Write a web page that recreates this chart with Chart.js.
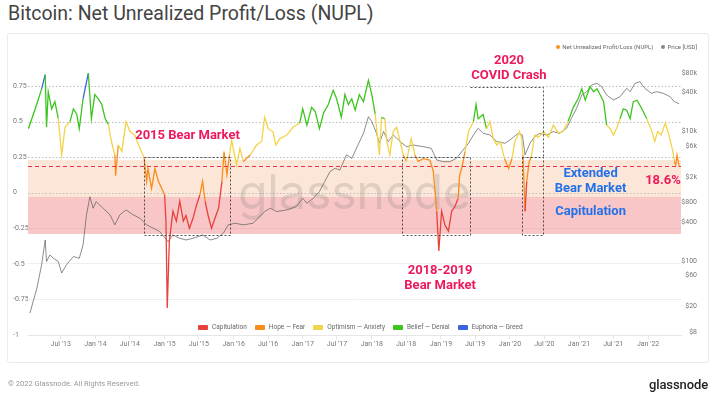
<!DOCTYPE html>
<html>
<head>
<meta charset="utf-8">
<script src="https://cdn.jsdelivr.net/npm/chart.js@4.4.0/dist/chart.umd.min.js"></script>
<style>
  html, body { margin: 0; padding: 0; background: #fff; }
  body { width: 715px; height: 394px; position: relative; overflow: hidden; font-family: Roboto, 'Noto Sans', sans-serif; }
  #title { position: absolute; left: 8px; top: 2px; font-size: 19.5px; color: #444; white-space: nowrap; }
  #card { position: absolute; left: 7px; top: 33px; width: 700px; height: 328px; border: 1px solid #ebebeb; border-radius: 3px; }
  #chart { position: absolute; left: 0; top: 0; }
  .legend { position: absolute; display: flex; align-items: center; white-space: nowrap; color: #666; }
  #legend-top { right: 18px; top: 43px; font-size: 6px; gap: 8px; }
  #legend-top .dot { display: inline-block; width: 4px; height: 4px; border-radius: 50%; margin-right: 2px; vertical-align: middle; }
  #legend-bottom { left: 198px; top: 323px; font-size: 6.5px; gap: 8px; }
  #legend-bottom .sw { display: inline-block; width: 10px; height: 5px; border-radius: 1px; margin-right: 4px; vertical-align: middle; }
  #footer { position: absolute; left: 8px; top: 379px; font-size: 7.5px; color: #999; }
  #logo { position: absolute; right: 7px; top: 377px; font-size: 13px; color: #222; font-weight: 500; letter-spacing: -0.1px; }
</style>
</head>
<body>
<div id="title">Bitcoin: Net Unrealized Profit/Loss (NUPL)</div>
<div id="card"></div>
<canvas id="chart" width="715" height="394"></canvas>
<div id="legend-top" class="legend"></div>
<div id="legend-bottom" class="legend"></div>
<div id="footer">© 2022 Glassnode. All Rights Reserved.</div>
<div id="logo">glassnode</div>
<script>
// --- DATA ---

const nuplDates = [
  '2013-01-11','2013-02-24','2013-03-22','2013-04-10','2013-04-17','2013-04-26','2013-05-14','2013-05-31',
  '2013-06-18','2013-07-06','2013-07-24','2013-08-19','2013-09-06','2013-09-24','2013-10-07','2013-10-27',
  '2013-11-24','2013-12-10','2013-12-28','2014-01-16','2014-02-03','2014-02-21','2014-03-10','2014-03-26',
  '2014-04-13','2014-04-17','2014-05-01','2014-05-20','2014-06-11','2014-07-02','2014-07-28','2014-08-24',
  '2014-09-14','2014-09-28','2014-10-05','2014-10-24','2014-11-11','2014-11-29','2014-12-17','2015-01-01',
  '2015-01-08','2015-01-15','2015-01-26','2015-02-14','2015-03-04','2015-03-22','2015-04-10','2015-04-24',
  '2015-05-12','2015-05-31','2015-06-18','2015-07-06','2015-07-21','2015-08-03','2015-08-19','2015-09-06',
  '2015-09-24','2015-10-13','2015-10-31','2015-11-11','2015-11-26','2015-12-10','2015-12-21','2016-01-16',
  '2016-02-03','2016-02-21','2016-03-29','2016-05-01','2016-05-28','2016-06-13','2016-07-02','2016-07-27',
  '2016-08-11','2016-09-02','2016-10-08','2016-11-10','2016-12-16','2017-01-01','2017-01-23','2017-02-17',
  '2017-03-08','2017-03-30','2017-04-21','2017-05-16','2017-06-11','2017-06-29','2017-07-24','2017-08-12',
  '2017-08-30','2017-09-17','2017-10-05','2017-10-27','2017-11-18','2017-12-14','2018-01-01','2018-01-19',
  '2018-01-30','2018-02-10','2018-02-21','2018-03-11','2018-03-19','2018-04-06','2018-04-24','2018-05-12',
  '2018-05-31','2018-06-16','2018-07-03','2018-07-28','2018-08-17','2018-09-03','2018-09-30','2018-11-04',
  '2018-11-22','2018-12-10','2018-12-21','2019-01-05','2019-01-23','2019-02-10','2019-02-27','2019-03-15',
  '2019-04-02','2019-04-10','2019-04-21','2019-05-09','2019-05-27','2019-06-22','2019-07-06','2019-07-17',
  '2019-08-12','2019-08-30','2019-09-17','2019-10-05','2019-10-24','2019-11-11','2019-12-03','2019-12-25',
  '2020-01-12','2020-01-27','2020-02-21','2020-03-03','2020-03-10','2020-03-21','2020-03-30','2020-04-12',
  '2020-04-23','2020-05-11','2020-05-30','2020-06-28','2020-07-23','2020-08-18','2020-09-13','2020-10-08',
  '2020-11-04','2020-12-02','2020-12-27','2021-01-16','2021-02-03','2021-02-28','2021-03-19','2021-04-06',
  '2021-04-22','2021-05-11','2021-05-27','2021-06-14','2021-07-02','2021-07-21','2021-08-06','2021-08-23',
  '2021-09-10','2021-09-28','2021-10-15','2021-11-04','2021-11-29','2021-12-25','2022-01-19','2022-02-05',
  '2022-02-21','2022-03-11','2022-04-02','2022-04-21','2022-05-12','2022-05-20','2022-05-27','2022-06-03',
  '2022-06-14'
];
const nuplValues = [
  0.45, 0.62, 0.73, 0.83, 0.46, 0.71, 0.59, 0.64,
  0.52, 0.265, 0.46, 0.50, 0.59, 0.55, 0.45, 0.66,
  0.84, 0.52, 0.69, 0.66, 0.62, 0.52, 0.48, 0.36,
  0.265, 0.12, 0.335, 0.29, 0.50, 0.43, 0.405, 0.31,
  0.25, 0.08, 0.17, 0.03, 0.17, 0.08, 0.03, -0.016,
  -0.20, -0.81, -0.34, -0.13, -0.20, -0.06, -0.20, -0.16,
  -0.25, -0.18, -0.09, -0.016, 0.08, -0.06, -0.16, -0.25,
  -0.18, -0.11, 0.08, 0.29, 0.125, 0.265, 0.37, 0.195,
  0.31, 0.22, 0.265, 0.335, 0.36, 0.53, 0.45, 0.43,
  0.335, 0.38, 0.405, 0.46, 0.49, 0.59, 0.475, 0.60,
  0.57, 0.45, 0.56, 0.62, 0.72, 0.66, 0.53, 0.69,
  0.62, 0.66, 0.58, 0.69, 0.64, 0.79, 0.69, 0.55,
  0.405, 0.265, 0.53, 0.52, 0.38, 0.265, 0.43, 0.46,
  0.36, 0.265, 0.22, 0.38, 0.265, 0.22, 0.24, 0.23,
  0.15, -0.13, -0.41, -0.13, -0.23, -0.27, -0.13, -0.10,
  -0.04, 0.12, 0.17, 0.29, 0.43, 0.50, 0.62, 0.52,
  0.55, 0.45, 0.50, 0.38, 0.335, 0.36, 0.24, 0.17,
  0.24, 0.36, 0.43, 0.38, 0.265, -0.13, 0.08, 0.22,
  0.25, 0.405, 0.39, 0.43, 0.39, 0.475, 0.42, 0.43,
  0.50, 0.60, 0.66, 0.73, 0.65, 0.745, 0.71, 0.73,
  0.69, 0.64, 0.475, 0.45, 0.405, 0.46, 0.52, 0.59,
  0.58, 0.52, 0.64, 0.65, 0.59, 0.52, 0.44, 0.36,
  0.43, 0.405, 0.49, 0.405, 0.29, 0.22, 0.195, 0.265,
  0.186
];

const priceDates = [
  '2013-01-19','2013-02-25','2013-03-22','2013-04-10','2013-04-17','2013-05-05','2013-05-23','2013-06-18',
  '2013-07-06','2013-07-31','2013-09-06','2013-10-07','2013-10-27','2013-11-14','2013-12-02','2013-12-19',
  '2014-01-04','2014-02-10','2014-03-19','2014-04-13','2014-05-09','2014-06-11','2014-07-20','2014-08-24',
  '2014-09-28','2014-11-03','2014-12-06','2015-01-19','2015-02-14','2015-03-22','2015-04-24','2015-05-31',
  '2015-07-21','2015-08-30','2015-10-04','2015-11-07','2015-12-03','2016-01-08','2016-02-21','2016-04-13',
  '2016-06-13','2016-07-13','2016-08-15','2016-10-08','2016-11-28','2017-01-01','2017-01-23','2017-02-26',
  '2017-03-30','2017-04-27','2017-05-25','2017-06-21','2017-07-16','2017-08-20','2017-09-17','2017-10-20',
  '2017-11-18','2017-12-14','2018-01-01','2018-01-26','2018-02-10','2018-03-04','2018-03-29','2018-04-24',
  '2018-05-31','2018-07-03','2018-08-07','2018-09-30','2018-11-11','2018-12-10','2019-01-11','2019-02-17',
  '2019-03-25','2019-04-21','2019-05-27','2019-06-22','2019-07-17','2019-08-12','2019-09-17','2019-10-24',
  '2019-12-06','2020-01-01','2020-02-14','2020-03-07','2020-03-21','2020-04-16','2020-05-11','2020-06-07',
  '2020-07-13','2020-08-18','2020-09-20','2020-10-27','2020-11-22','2020-12-19','2021-01-16','2021-02-10',
  '2021-03-09','2021-04-06','2021-05-01','2021-05-27','2021-07-02','2021-08-06','2021-09-10','2021-09-28',
  '2021-10-24','2021-11-19','2021-12-14','2022-01-19','2022-02-14','2022-03-22','2022-04-27','2022-05-20',
  '2022-06-07','2022-06-14'
];
const priceValues = [
  15.6, 38, 87, 211, 98, 124, 110, 98,
  65, 87, 117, 110, 177, 514, 985, 653,
  826, 653, 514, 361, 514, 615, 514, 457,
  361, 320, 285, 199, 252, 224, 211, 224,
  252, 211, 224, 268, 361, 383, 361, 383,
  580, 653, 580, 615, 692, 931, 780, 931,
  1178, 1683, 2404, 2710, 2540, 4370, 3860, 6210,
  9420, 17000, 14200, 9420, 6600, 10000, 7000, 8870,
  7000, 5850, 6210, 5850, 5520, 3640, 3430, 3430,
  3860, 4900, 6600, 8870, 11250, 9420, 8870, 7000,
  6600, 7430, 9420, 8870, 4370, 6600, 8360, 9420,
  8870, 10000, 9420, 11250, 16060, 22900, 36800, 41400,
  52600, 55800, 49500, 36800, 30800, 34700, 46800, 41400,
  55800, 59100, 46800, 39100, 41400, 39100, 34700, 29000,
  27500, 27000
];

const xTickDates = ['2013-07-01','2014-01-01','2014-07-01','2015-01-01','2015-07-01','2016-01-01','2016-07-01',
  '2017-01-01','2017-07-01','2018-01-01','2018-07-01','2019-01-01','2019-07-01','2020-01-01','2020-07-01',
  '2021-01-01','2021-07-01','2022-01-01'];
const xTickLabels = ["Jul '13","Jan '14","Jul '14","Jan '15","Jul '15","Jan '16","Jul '16","Jan '17","Jul '17",
  "Jan '18","Jul '18","Jan '19","Jul '19","Jan '20","Jul '20","Jan '21","Jul '21","Jan '22"];
const nuplTicks = [-1, -0.75, -0.5, -0.25, 0, 0.25, 0.5, 0.75];
const priceTicks = [8, 20, 60, 100, 400, 800, 2000, 6000, 10000, 40000, 80000];
const priceTickLabels = ['$8','$20','$60','$100','$400','$800','$2k','$6k','$10k','$40k','$80k'];

const zoneNames = ['Capitulation', 'Hope — Fear', 'Optimism — Anxiety', 'Belief — Denial', 'Euphoria — Greed'];
const zoneBreaks = [0, 0.25, 0.5, 0.75];
const currentNupl = 0.186;

// --- STYLE ---

const zoneColors = ['#e8413c', '#f98d1c', '#f3d34a', '#3cc51f', '#3b64e0'];
const pink = '#ec1a5c';
const blue = '#2470e8';

// shaded regions and dotted boxes, in chart units
const bands = [
  { from: 0.23, to: -0.03, color: 'rgba(249,205,175,0.5)' },
  { from: -0.03, to: -0.29, color: 'rgba(238,120,120,0.42)' }
];
const boxes = [
  ['2014-09-13', '2015-12-12', 0.25, -0.30],
  ['2018-06-10', '2019-06-03', 0.25, -0.30],
  ['2020-03-03', '2020-06-24', 0.25, -0.30]
];
const bracket = [['2019-06-03', 0.745], ['2020-06-24', 0.745], ['2020-06-24', 0.25]];
const notes = [
  { lines: ['2015 Bear Market'], date: '2015-05-02', value: 0.398, color: pink },
  { lines: ['2020', 'COVID Crash'], date: '2019-12-27', value: 0.925, color: pink },
  { lines: ['2018-2019', 'Bear Market'], date: '2018-12-28', value: -0.545, color: pink },
  { lines: ['Extended', 'Bear Market'], date: '2021-03-03', value: 0.131, color: blue },
  { lines: ['Capitulation'], date: '2021-03-03', value: -0.136, color: blue },
  { lines: ['18.6%'], date: '2022-03-21', value: 0.082, color: pink }
];

function toYear(s) {
  const d = new Date(s + 'T00:00:00Z');
  const y = d.getUTCFullYear();
  const start = Date.UTC(y, 0, 1), end = Date.UTC(y + 1, 0, 1);
  return y + (d.getTime() - start) / (end - start);
}

function zoneColor(v) {
  let i = 0;
  while (i < zoneBreaks.length && v >= zoneBreaks[i]) i++;
  return zoneColors[i];
}

// --- LEGENDS ---

document.getElementById('legend-top').innerHTML =
  '<span><span class="dot" style="background:#f7931a"></span>Net Unrealized Profit/Loss (NUPL)</span>' +
  '<span><span class="dot" style="background:#888"></span>Price [USD]</span>';
document.getElementById('legend-bottom').innerHTML = zoneNames.map((n, i) =>
  '<span><span class="sw" style="background:' + zoneColors[i] + '"></span>' + n + '</span>').join('');

// --- OVERLAY PLUGIN ---

const overlay = {
  id: 'overlay',
  beforeDatasetsDraw(chart) {
    const { ctx, chartArea: a, scales: { x, y } } = chart;
    ctx.save();
    bands.forEach(b => {
      const t = y.getPixelForValue(b.from), bt = y.getPixelForValue(b.to);
      ctx.fillStyle = b.color;
      ctx.fillRect(a.left, t, a.right - a.left, bt - t);
    });
    ctx.strokeStyle = '#bdbdbd';
    ctx.lineWidth = 1;
    ctx.setLineDash([1.5, 2]);
    zoneBreaks.forEach(v => {
      const py = Math.round(y.getPixelForValue(v)) + 0.5;
      ctx.beginPath(); ctx.moveTo(a.left, py); ctx.lineTo(a.right, py); ctx.stroke();
    });
    ctx.setLineDash([]);
    ctx.font = '400 48px Inter, Roboto, sans-serif';
    ctx.fillStyle = 'rgba(110,110,110,0.2)';
    ctx.textAlign = 'center';
    ctx.textBaseline = 'alphabetic';
    ctx.fillText('glassnode', (a.left + a.right) / 2, (a.top + a.bottom) / 2 + 14);
    ctx.restore();
  },
  afterDatasetsDraw(chart) {
    const { ctx, chartArea: a, scales: { x, y } } = chart;
    const px = d => x.getPixelForValue(toYear(d));
    ctx.save();
    // dotted boxes
    ctx.strokeStyle = 'rgba(50,50,50,0.85)';
    ctx.lineWidth = 1;
    ctx.setLineDash([2, 2]);
    boxes.forEach(([d0, d1, top, bottom]) => {
      const l = Math.round(px(d0)) + 0.5, r = Math.round(px(d1)) + 0.5;
      const t = Math.round(y.getPixelForValue(top)) + 0.5, b = Math.round(y.getPixelForValue(bottom)) + 0.5;
      ctx.strokeRect(l, t, r - l, b - t);
    });
    ctx.beginPath();
    bracket.forEach(([d, v], i) => {
      const xx = Math.round(px(d)) + 0.5, yy = Math.round(y.getPixelForValue(v)) + 0.5;
      if (i === 0) ctx.moveTo(xx, yy); else ctx.lineTo(xx, yy);
    });
    ctx.stroke();
    // current level
    ctx.strokeStyle = '#e8334d';
    ctx.setLineDash([4, 3]);
    const cy = Math.round(y.getPixelForValue(currentNupl)) + 0.5;
    ctx.beginPath(); ctx.moveTo(a.left, cy); ctx.lineTo(a.right, cy); ctx.stroke();
    ctx.setLineDash([]);
    // labels
    ctx.font = 'bold 13px Roboto, sans-serif';
    ctx.textAlign = 'center';
    ctx.textBaseline = 'middle';
    notes.forEach(n => {
      ctx.fillStyle = n.color;
      const cx = px(n.date), y0 = y.getPixelForValue(n.value);
      n.lines.forEach((t, i) => ctx.fillText(t, cx, y0 + i * 15));
    });
    ctx.restore();
  }
};

// --- CHART ---

const tickFont = { family: 'Roboto, sans-serif', size: 7 };

new Chart(document.getElementById('chart').getContext('2d'), {
  type: 'line',
  data: {
    datasets: [
      {
        label: 'Net Unrealized Profit/Loss (NUPL)',
        data: nuplDates.map((d, i) => ({ x: toYear(d), y: nuplValues[i] })),
        yAxisID: 'y',
        borderColor: '#f98d1c',
        borderWidth: 1.3,
        pointRadius: 0,
        tension: 0,
        segment: { borderColor: c => zoneColor((c.p0.parsed.y + c.p1.parsed.y) / 2) },
        order: 1
      },
      {
        label: 'Price [USD]',
        data: priceDates.map((d, i) => ({ x: toYear(d), y: priceValues[i] })),
        yAxisID: 'y1',
        borderColor: 'rgba(95,95,95,0.8)',
        borderWidth: 0.9,
        pointRadius: 0,
        tension: 0,
        order: 2
      }
    ]
  },
  options: {
    responsive: false,
    animation: false,
    layout: { padding: { left: 13, right: 18, top: 55, bottom: 39 } },
    plugins: { legend: { display: false }, tooltip: { enabled: false } },
    scales: {
      x: {
        type: 'linear',
        min: toYear('2013-01-09'),
        max: toYear('2022-06-24'),
        afterBuildTicks: s => { s.ticks = xTickDates.map(d => ({ value: toYear(d) })); },
        afterFit: s => { s.height = 20; },
        ticks: { callback: (v, i) => xTickLabels[i], autoSkip: false, maxRotation: 0, font: tickFont, color: '#777', padding: 1 },
        grid: { drawOnChartArea: false, drawTicks: true, tickLength: 4, color: '#e6e6e6' },
        border: { display: true, color: '#e6e6e6' }
      },
      y: {
        position: 'left',
        min: -1,
        max: 0.968,
        afterBuildTicks: s => { s.ticks = nuplTicks.map(v => ({ value: v })); },
        afterFit: s => { s.width = 15; },
        ticks: { callback: v => String(v), crossAlign: 'far', font: tickFont, color: '#777' },
        grid: { color: c => (c.tick && c.tick.value < 0) ? '#eeeeee' : 'rgba(0,0,0,0)', drawTicks: false },
        border: { display: false }
      },
      y1: {
        type: 'logarithmic',
        position: 'right',
        min: 7.16,
        max: 152900,
        afterBuildTicks: s => { s.ticks = priceTicks.map(v => ({ value: v })); },
        afterFit: s => { s.width = 16; },
        ticks: { callback: (v, i) => priceTickLabels[i], crossAlign: 'far', font: tickFont, color: '#777' },
        grid: { display: false },
        border: { display: false }
      }
    }
  },
  plugins: [overlay]
});
</script>
</body>
</html>
